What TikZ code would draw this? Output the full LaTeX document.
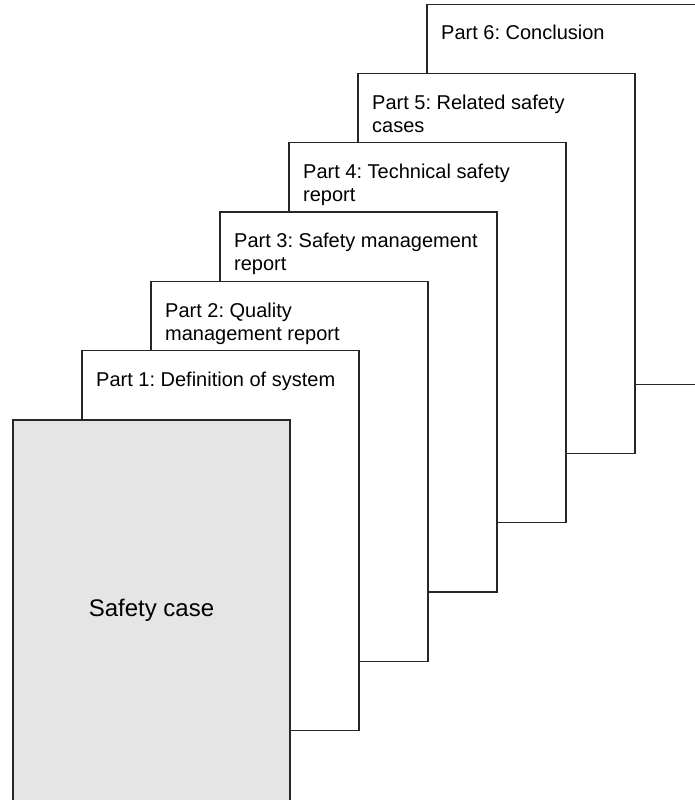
\documentclass[tikz,border=0pt]{standalone}
\usepackage{fontspec}
\setmainfont{Liberation Sans}
\frenchspacing
\begin{document}
\begin{tikzpicture}[x=1pt,y=-1pt,
  sheet/.style={draw=black!85, line width=1.2pt, fill=white, anchor=north west,
    minimum width=277pt, minimum height=380pt, inner sep=0pt, outer sep=0pt},
  cover/.style={sheet, fill=black!10, minimum height=390pt},
  heading/.style={anchor=north west, inner sep=0pt, align=left,
    font=\fontsize{20}{23}\selectfont},
  covertext/.style={font=\fontsize{24}{28}\selectfont}]
\clip (0,0) rectangle (695,800);
% sheets, back to front, each shifted by (69,-69.3)
\node[sheet] (p6) at (427,4.2) {};
\node[heading] (t6) at ([shift={(14,21)}]p6.north west) {Part 6: Conclusion};
\node[sheet] (p5) at (358,73.5) {};
\node[heading] (t5) at ([shift={(14,21)}]p5.north west) {Part 5: Related safety\\cases};
\node[sheet] (p4) at (289,142.8) {};
\node[heading] (t4) at ([shift={(14,21)}]p4.north west) {Part 4: Technical safety\\report};
\node[sheet] (p3) at (220,212) {};
\node[heading] (t3) at ([shift={(14,21)}]p3.north west) {Part 3: Safety management\\report};
\node[sheet] (p2) at (151,281.4) {};
\node[heading] (t2) at ([shift={(14,21)}]p2.north west) {Part 2: Quality\\management report};
\node[sheet] (p1) at (82,350.7) {};
\node[heading] (t1) at ([shift={(14,21)}]p1.north west) {Part 1: Definition of system};
% front cover runs off the bottom edge
\node[cover] (sc) at (13,420) {};
\node[covertext] (tsc) at (151.5,610) {Safety case};
\end{tikzpicture}
\end{document}
